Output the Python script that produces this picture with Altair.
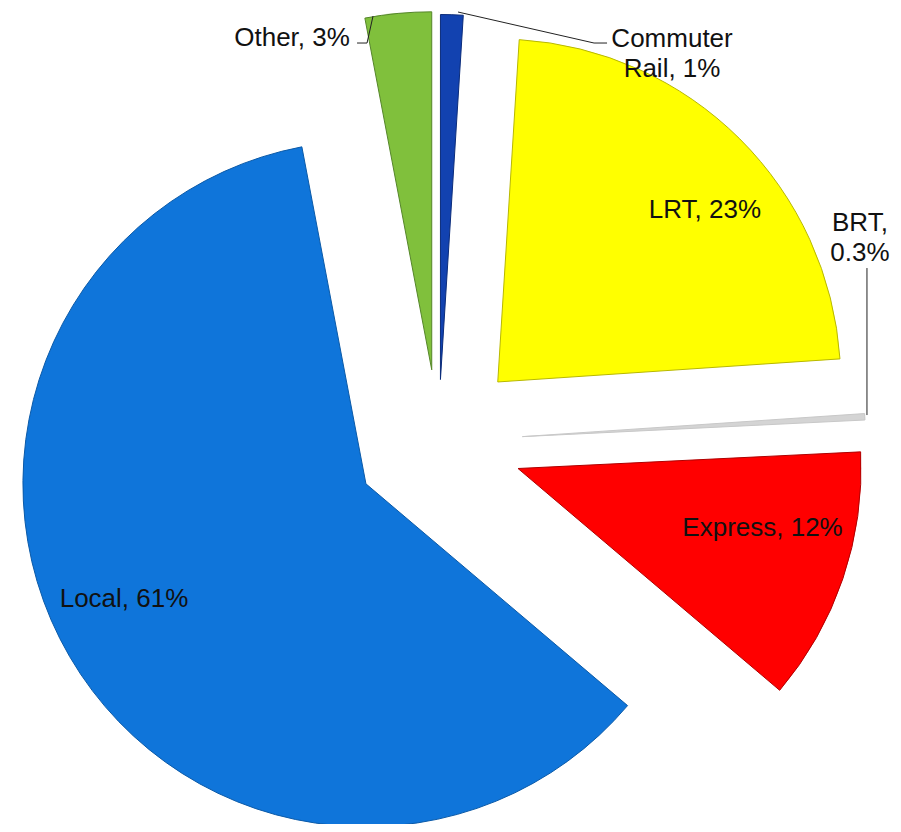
import altair as alt
import pandas as pd

# ---- data -------------------------------------------------------------
CATEGORIES = ["Commuter Rail", "LRT", "BRT", "Express", "Local", "Other"]
SHARES = [1, 23, 0.3, 12, 61, 3]
LABELS = ["Commuter\nRail, 1%", "LRT, 23%", "BRT,\n0.3%", "Express, 12%", "Local, 61%", "Other, 3%"]

# ---- style ------------------------------------------------------------
COLORS = ["#1242B0", "#FFFF00", "#D4D4D4", "#FF0000", "#0F75DA", "#80C03C"]
EDGES = ["#0B2C7A", "#B8B800", "#C8C8C8", "#B00000", "#0B5AA8", "#55862A"]
EXPLODE = [62, 84, 84, 84, 84, 72]          # slice explosion (px)
RADII = [365, 343, 343, 343, 343, 358]      # slice radius (px)
LABEL_DX = [231.6, 207.2, 337.6, 244.5, -241.9, -139.7]   # label offset from slice tip
LABEL_DY = [-341.0, -172.0, -214.0, 59.0, 115.2, -332.3]
# leader lines: three points as offsets from the slice tip (None = no leader)
L1X = [17.6, None, 344.6, None, None, -58.7]
L1Y = [-367.5, None, -21.6, None, None, -353.8]
L2X = [153.6, None, 344.6, None, None, -64.7]
L2Y = [-336.5, None, -168.6, None, None, -326.8]
L3X = [166.6, None, 344.6, None, None, -74.7]
L3Y = [-336.5, None, -168.6, None, None, -326.8]

W, H = 885, 816
CX, CY = 430.5, 433.5
FONT = "Liberation Sans"

df = pd.DataFrame({
    "category": CATEGORIES,
    "share": SHARES,
    "label": LABELS,
    "order": list(range(len(CATEGORIES))),
    "explode": EXPLODE,
    "radius": RADII,
    "ldx": LABEL_DX,
    "ldy": LABEL_DY,
    "l1x": L1X, "l1y": L1Y, "l2x": L2X, "l2y": L2Y, "l3x": L3X, "l3y": L3Y,
})

base = (
    alt.Chart(df)
    .transform_joinaggregate(total="sum(share)")
    .transform_window(cum="sum(share)", sort=[alt.SortField("order")], frame=[None, 0])
    .transform_calculate(
        a1="2*PI*(datum.cum - datum.share)/datum.total",
        a2="2*PI*datum.cum/datum.total",
        mid="(datum.a1 + datum.a2)/2",
        vx=f"{CX} + datum.explode*sin(datum.mid)",
        vy=f"{CY} - datum.explode*cos(datum.mid)",
    )
)

arcs = base.mark_arc(strokeWidth=1).encode(
    x=alt.X("vx:Q", scale=None, axis=None),
    y=alt.Y("vy:Q", scale=None, axis=None),
    theta=alt.Theta("a1:Q", scale=None, stack=False),
    theta2="a2:Q",
    radius=alt.Radius("radius:Q", scale=None, stack=False),
    color=alt.Color("category:N", scale=alt.Scale(domain=CATEGORIES, range=COLORS), legend=None),
    stroke=alt.Stroke("category:N", scale=alt.Scale(domain=CATEGORIES, range=EDGES), legend=None),
)

lead = base.transform_filter("isValid(datum.l1x)").transform_calculate(
    p1x="datum.vx + datum.l1x", p1y="datum.vy + datum.l1y",
    p2x="datum.vx + datum.l2x", p2y="datum.vy + datum.l2y",
    p3x="datum.vx + datum.l3x", p3y="datum.vy + datum.l3y",
)
seg1 = lead.mark_rule(color="#222222", strokeWidth=1).encode(
    x=alt.X("p1x:Q", scale=None, axis=None), y=alt.Y("p1y:Q", scale=None, axis=None),
    x2="p2x:Q", y2="p2y:Q",
)
seg2 = lead.mark_rule(color="#222222", strokeWidth=1).encode(
    x=alt.X("p2x:Q", scale=None, axis=None), y=alt.Y("p2y:Q", scale=None, axis=None),
    x2="p3x:Q", y2="p3y:Q",
)

labels = base.transform_calculate(
    lx="datum.vx + datum.ldx", ly="datum.vy + datum.ldy"
).mark_text(
    font=FONT, fontSize=26, lineBreak="\n", lineHeight=30, color="#111111",
    align="center", baseline="middle",
).encode(
    x=alt.X("lx:Q", scale=None, axis=None),
    y=alt.Y("ly:Q", scale=None, axis=None),
    text="label:N",
)

chart = (
    alt.layer(arcs, seg1, seg2, labels)
    .properties(width=W, height=H, padding=0, autosize="none", background="white")
    .configure_view(stroke=None)
)

chart.save("out.html", embed_options={"renderer": "svg", "actions": False})
